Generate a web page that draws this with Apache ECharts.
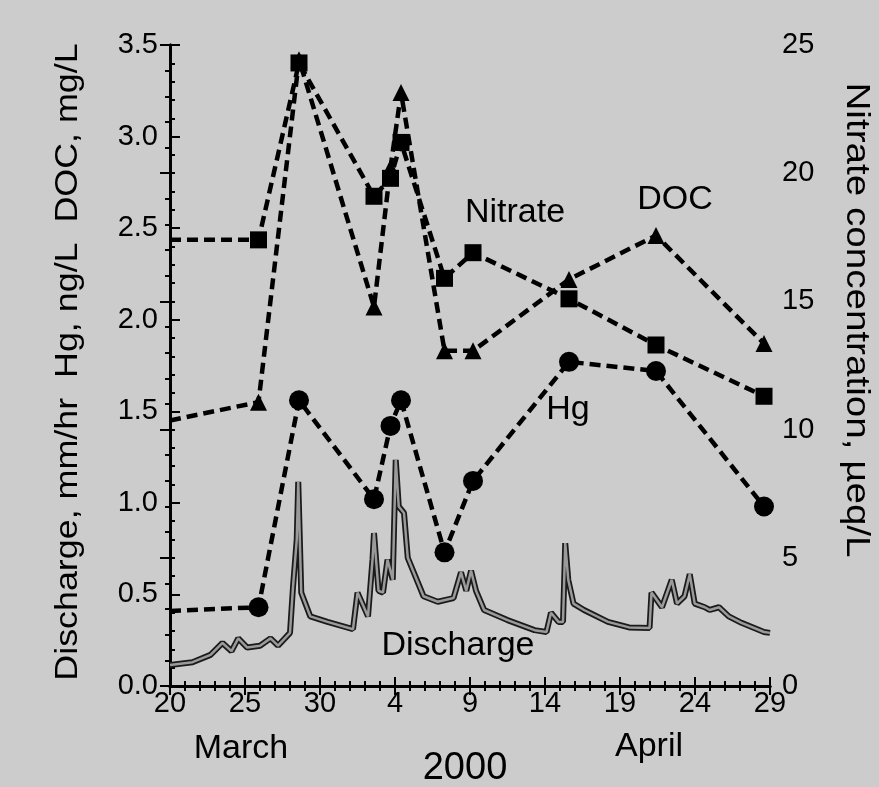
<!DOCTYPE html>
<html>
<head>
<meta charset="utf-8">
<script src="https://cdn.jsdelivr.net/npm/echarts@6/dist/echarts.min.js"></script>
<style>
  html, body { margin: 0; padding: 0; background: #cccccc; }
  #chart { width: 879px; height: 787px; }
</style>
</head>
<body>
<div id="chart"></div>
<script>
// days since 20 March 2000
var sampleDays = [0, 5.9, 8.6, 13.6, 14.7, 15.4, 18.3, 20.2, 26.6, 32.4, 39.6];
var nitrate = [17.4, 17.4, 24.3, 19.1, 19.8, 21.2, 15.9, 16.9, 15.1, 13.3, 11.3]; // ueq/L, right axis
var doc = [1.45, 1.55, 3.42, 2.07, 2.83, 3.24, 1.83, 1.83, 2.22, 2.46, 1.87];      // mg/L
var hg = [0.41, 0.43, 1.56, 1.02, 1.42, 1.56, 0.73, 1.12, 1.77, 1.72, 0.98];        // ng/L

// discharge, mm/hr  [day, value]
var discharge = [
    [0, 0.115], [1.5, 0.13], [2.7, 0.17], [3.5, 0.235], [4.1, 0.19], [4.55, 0.26],
    [5.15, 0.21], [6.0, 0.22], [6.7, 0.26], [7.2, 0.22], [8.0, 0.29], [8.2, 0.54],
    [8.45, 0.8], [8.55, 1.115], [8.75, 0.51], [9.35, 0.38], [10.5, 0.35], [12.2, 0.31],
    [12.5, 0.51], [13.2, 0.38], [13.5, 0.69], [13.6, 0.835], [13.9, 0.52], [14.2, 0.51],
    [14.5, 0.69], [14.85, 0.58], [15.05, 1.235], [15.25, 0.98], [15.6, 0.945], [15.85, 0.70],
    [16.25, 0.62], [16.9, 0.49], [17.85, 0.46], [18.9, 0.48], [19.4, 0.62], [19.75, 0.52],
    [20.07, 0.63], [20.4, 0.52], [20.94, 0.415], [22.5, 0.36], [24.3, 0.305], [25.1, 0.295],
    [25.4, 0.40], [25.9, 0.35], [26.2, 0.35], [26.35, 0.78], [26.55, 0.58], [26.9, 0.45],
    [27.6, 0.415], [29.2, 0.35], [30.6, 0.32], [31.97, 0.317], [32.1, 0.51], [32.8, 0.43],
    [33.45, 0.58], [33.8, 0.45], [34.3, 0.49], [34.65, 0.61], [34.98, 0.45], [35.65, 0.43],
    [35.98, 0.415], [36.6, 0.43], [37.25, 0.38], [38.1, 0.345], [39.6, 0.295], [40, 0.29]
];

function pairs(days, vals) {
    var out = [];
    for (var i = 0; i < days.length; i++) {
        var p = { value: [days[i], vals[i]] };
        if (i === 0) p.symbol = 'none';  // line runs in from the left edge
        out.push(p);
    }
    return out;
}

// day number -> day of month (March 20 .. April 29)
function dayLabel(d) {
    if (d <= 11) return String(20 + d);
    return String(d - 11);
}

var font = 'Liberation Sans, Arial, Helvetica, sans-serif';
var dashed = { color: '#000', width: 4.5, type: [11, 6] };
var tickStyle = { color: '#000', width: 2 };

function label(txt, x, y, size, sx, rot) {
    return {
        type: 'text', x: x, y: y, rotation: rot || 0, scaleX: sx || 1,
        style: { text: txt, font: size + 'px ' + font, fill: '#000', align: 'center', verticalAlign: 'middle' }
    };
}

var myChart = echarts.init(document.getElementById('chart'));

var option = {
    backgroundColor: '#cccccc',
    animation: false,
    textStyle: { fontFamily: font },
    grid: { left: 170, right: 109, top: 45, bottom: 101 },
    xAxis: [
        {
            type: 'value', min: 0, max: 40, interval: 5,
            axisLine: { lineStyle: { color: '#000', width: 3 } },
            axisTick: { inside: true, length: 9, lineStyle: tickStyle },
            minorTick: { show: true, splitNumber: 5, length: 5, lineStyle: tickStyle },
            splitLine: { show: false },
            axisLabel: { color: '#000', fontSize: 29, margin: 3, formatter: function (v) { return dayLabel(v); } }
        },
        {
            type: 'value', min: 0, max: 40, interval: 5, position: 'top',
            axisLine: { lineStyle: { color: '#000', width: 3 } },
            axisTick: { inside: true, length: 9, lineStyle: tickStyle },
            minorTick: { show: true, splitNumber: 5, length: 5, lineStyle: tickStyle },
            splitLine: { show: false },
            axisLabel: { show: false }
        }
    ],
    yAxis: [
        {
            type: 'value', min: 0, max: 3.5, interval: 0.5,
            axisLine: { show: true, lineStyle: { color: '#000', width: 3 } },
            axisTick: { inside: true, length: 10, lineStyle: tickStyle },
            minorTick: { show: true, splitNumber: 5, length: 5, lineStyle: tickStyle },
            splitLine: { show: false },
            axisLabel: { color: '#000', fontSize: 29, margin: 12, formatter: function (v) { return v.toFixed(1); } }
        },
        {
            type: 'value', min: 0, max: 25, interval: 5, position: 'right',
            axisLine: { show: true, lineStyle: { color: '#000', width: 3 } },
            axisTick: { inside: true, length: 10, lineStyle: tickStyle },
            minorTick: { show: true, splitNumber: 5, length: 5, lineStyle: tickStyle },
            splitLine: { show: false },
            axisLabel: { color: '#000', fontSize: 29, margin: 12 }
        }
    ],
    series: [
        {
            name: 'Discharge edge', type: 'line', data: discharge, showSymbol: false,
            lineStyle: { color: '#1a1a1a', width: 6 }, z: 1
        },
        {
            name: 'Discharge', type: 'line', data: discharge, showSymbol: false,
            lineStyle: { color: '#9a9a9a', width: 2.5 }, z: 2
        },
        {
            name: 'Nitrate', type: 'line', yAxisIndex: 1, data: pairs(sampleDays, nitrate),
            symbol: 'rect', symbolSize: 17, itemStyle: { color: '#000' }, lineStyle: dashed, z: 5
        },
        {
            name: 'DOC', type: 'line', data: pairs(sampleDays, doc),
            symbol: 'triangle', symbolSize: 17, itemStyle: { color: '#000' }, lineStyle: dashed, z: 5
        },
        {
            name: 'Hg', type: 'line', data: pairs(sampleDays, hg),
            symbol: 'circle', symbolSize: 20, itemStyle: { color: '#000' }, lineStyle: dashed, z: 5
        }
    ],
    graphic: [
        label('Discharge, mm/hr  Hg, ng/L  DOC, mg/L', 68, 362, 32, 1.12, Math.PI / 2),
        label('Nitrate concentration, µeq/L', 856, 320, 33, 1.17, -Math.PI / 2),
        label('Nitrate', 515, 213, 34),
        label('DOC', 675, 200, 34),
        label('Hg', 568, 410, 34),
        label('Discharge', 458, 646, 34),
        label('March', 241, 749, 34),
        label('April', 649, 747, 34),
        label('2000', 465, 769, 38)
    ]
};

myChart.setOption(option);
</script>
</body>
</html>
